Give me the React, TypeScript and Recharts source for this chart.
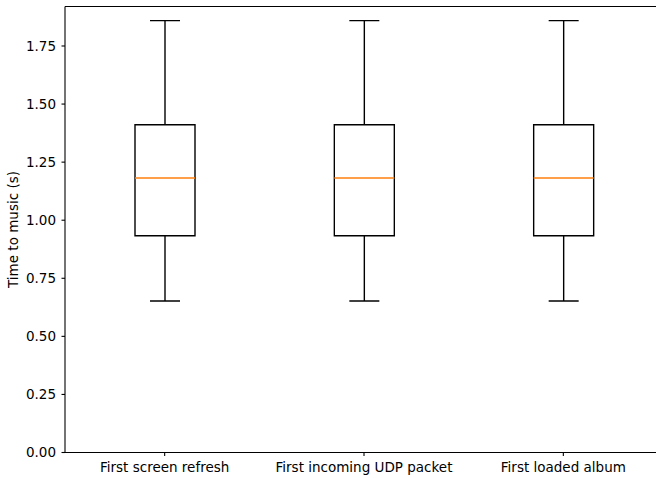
import { ComposedChart, Bar, XAxis, YAxis, Label, ReferenceLine } from 'recharts';

const categories = ['First screen refresh', 'First incoming UDP packet', 'First loaded album'];
const whiskerLow = [0.652, 0.652, 0.652];
const quartile1 = [0.933, 0.933, 0.933];
const medians = [1.182, 1.182, 1.182];
const quartile3 = [1.411, 1.411, 1.411];
const whiskerHigh = [1.859, 1.859, 1.859];
const yTicks = [0, 0.25, 0.5, 0.75, 1.0, 1.25, 1.5, 1.75];
const yMax = 1.92;

// stacked segments: invisible base, then whisker / box pieces on top of each other
const rows = categories.map((name, i) => ({
  name,
  base: whiskerLow[i],
  lowWhisker: quartile1[i] - whiskerLow[i],
  lowBox: medians[i] - quartile1[i],
  highBox: quartile3[i] - medians[i],
  highWhisker: whiskerHigh[i] - quartile3[i],
}));

const FONT = '"DejaVu Sans", sans-serif';
const LW = 1.4;
const CAP = 30;

const LowWhisker = (p: any) => {
  const cx = p.x + p.width / 2;
  const bottom = p.y + p.height;
  return (
    <g stroke="#000" strokeWidth={LW}>
      <line x1={cx} x2={cx} y1={p.y} y2={bottom} />
      <line x1={cx - CAP / 2} x2={cx + CAP / 2} y1={bottom} y2={bottom} />
    </g>
  );
};

const HighWhisker = (p: any) => {
  const cx = p.x + p.width / 2;
  return (
    <g stroke="#000" strokeWidth={LW}>
      <line x1={cx} x2={cx} y1={p.y} y2={p.y + p.height} />
      <line x1={cx - CAP / 2} x2={cx + CAP / 2} y1={p.y} y2={p.y} />
    </g>
  );
};

const LowBox = (p: any) => {
  const { x, y, width, height } = p;
  return (
    <path
      d={`M${x},${y} L${x},${y + height} L${x + width},${y + height} L${x + width},${y}`}
      fill="none"
      stroke="#000"
      strokeWidth={LW}
    />
  );
};

const HighBox = (p: any) => {
  const { x, y, width, height } = p;
  return (
    <g>
      <path
        d={`M${x},${y + height} L${x},${y} L${x + width},${y} L${x + width},${y + height}`}
        fill="none"
        stroke="#000"
        strokeWidth={LW}
      />
      <line x1={x} x2={x + width} y1={y + height} y2={y + height} stroke="#ff7f0e" strokeWidth={LW} />
    </g>
  );
};

const tickStyle = { fill: '#000', fontSize: 13.5, fontFamily: FONT };

export default function App() {
  return (
    <div style={{ position: 'absolute', left: 0, top: 0, width: 656, height: 478, overflow: 'hidden', background: '#fff' }}>
      <ComposedChart
        width={672}
        height={478}
        data={rows}
        margin={{ top: 6.5, right: 9, bottom: 0, left: 0 }}
        style={{ fontFamily: FONT }}
      >
        <XAxis
          dataKey="name"
          height={25.5}
          tick={tickStyle}
          tickSize={3.5}
          tickMargin={6.5}
          axisLine={{ stroke: '#000', strokeWidth: 1.1 }}
          tickLine={{ stroke: '#000', strokeWidth: 1.1 }}
          interval={0}
        />
        <YAxis
          width={65}
          domain={[0, yMax]}
          ticks={yTicks}
          allowDataOverflow
          tickFormatter={(v: number) => v.toFixed(2)}
          tick={tickStyle}
          tickSize={3.5}
          tickMargin={5.5}
          axisLine={{ stroke: '#000', strokeWidth: 1.1 }}
          tickLine={{ stroke: '#000', strokeWidth: 1.1 }}
        >
          <Label
            content={(props: any) => {
              const vb = props.viewBox || { y: 6.5, height: 446 };
              const cy = vb.y + vb.height / 2;
              return (
                <text
                  x={13}
                  y={cy}
                  transform={`rotate(-90, 13, ${cy})`}
                  textAnchor="middle"
                  dominantBaseline="central"
                  fill="#000"
                  fontSize={13.5}
                  fontFamily={FONT}
                >
                  Time to music (s)
                </text>
              );
            }}
          />
        </YAxis>
        <ReferenceLine y={yMax} stroke="#000" strokeWidth={1.1} ifOverflow="visible" />
        <Bar dataKey="base" stackId="b" barSize={60} fill="none" isAnimationActive={false} />
        <Bar dataKey="lowWhisker" stackId="b" barSize={60} shape={LowWhisker} isAnimationActive={false} />
        <Bar dataKey="lowBox" stackId="b" barSize={60} shape={LowBox} isAnimationActive={false} />
        <Bar dataKey="highBox" stackId="b" barSize={60} shape={HighBox} isAnimationActive={false} />
        <Bar dataKey="highWhisker" stackId="b" barSize={60} shape={HighWhisker} isAnimationActive={false} />
      </ComposedChart>
    </div>
  );
}
